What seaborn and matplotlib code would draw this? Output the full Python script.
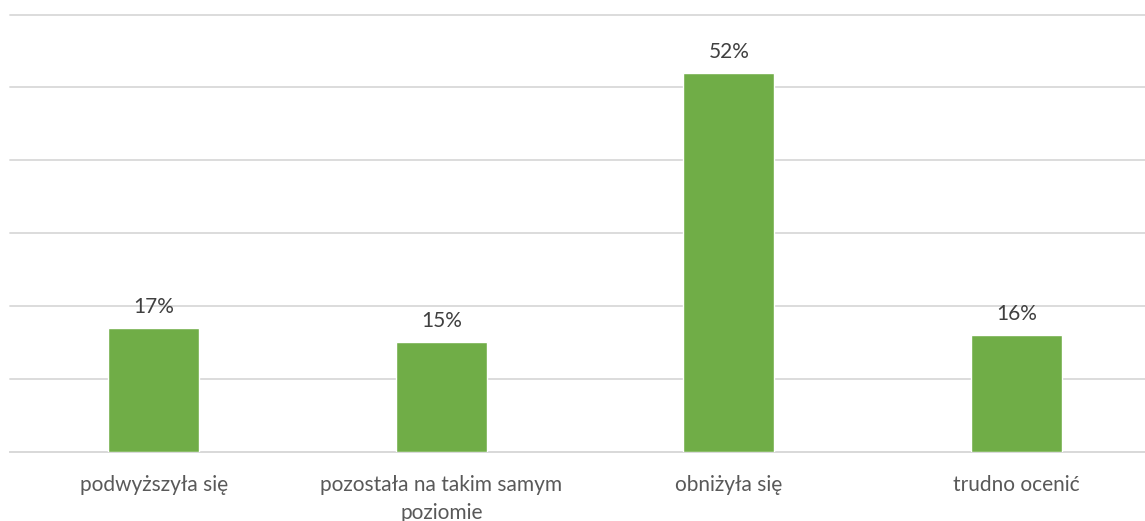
import seaborn as sns
import matplotlib.pyplot as plt
import pandas as pd

# dane z wykresu
kategorie = ["podwyższyła się", "pozostała na takim samym\npoziomie", "obniżyła się", "trudno ocenić"]
procenty = [17, 15, 52, 16]

df = pd.DataFrame({"kategoria": kategorie, "procent": procenty})

sns.set_style("white")
plt.rcParams['font.family'] = ['Lato', 'DejaVu Sans']

fig = plt.figure(figsize=(11.45, 5.21), dpi=100)
W, H = 1145, 521
ax = fig.add_axes([10 / W, (H - 451.5) / H, 1150 / W, 437 / H])

sns.barplot(data=df, x="kategoria", y="procent", color="#70AD47", width=0.315,
            saturation=1, ax=ax, zorder=3)

ax.set_ylim(0, 60)
ax.set_yticks(range(0, 61, 10))
ax.yaxis.grid(True, color="#D9D9D9", linewidth=1.3, zorder=0)
for gl in ax.get_ygridlines():
    gl.set_clip_on(False)
ax.set_yticklabels([])
ax.tick_params(axis="y", length=0)
ax.tick_params(axis="x", length=0, labelsize=15, labelcolor="#595959", pad=17)
for lbl in ax.get_xticklabels():
    lbl.set_linespacing(1.5)
for s in ["top", "right", "left"]:
    ax.spines[s].set_visible(False)
ax.spines["bottom"].set_color("#D9D9D9")
ax.spines["bottom"].set_linewidth(1.3)
ax.set_xlabel("")
ax.set_ylabel("")

for i, v in enumerate(procenty):
    ax.annotate(f"{v}%", (i, v), xytext=(0, 8), textcoords="offset points",
                ha="center", va="bottom", fontsize=15, color="#404040")

fig.savefig("out.png", dpi=100)
